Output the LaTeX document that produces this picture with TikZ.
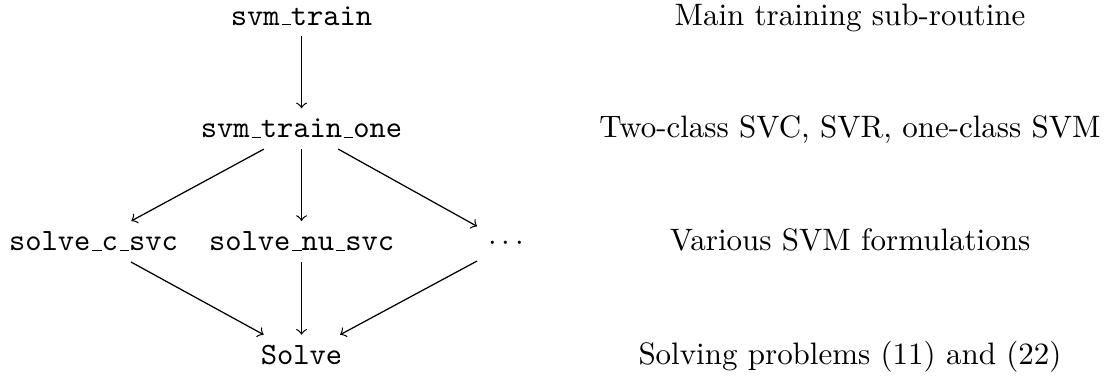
\documentclass[tikz,border=0pt]{standalone}
\usepackage{amsmath,amssymb}
\usepackage{tikz}
\newcommand{\usc}{\leavevmode\kern.06em\vbox{\hrule width.3em}}

\begin{document}
\begin{tikzpicture}[routine/.style = {anchor = base, font = \ttfamily}, note/.style = {anchor = base}]
\useasboundingbox (0,0) rectangle (12.60,4.275);
\node[routine] (train) at (3.42,3.99) {svm\usc train};
\node[routine] (trainone) at (3.42,2.71) {svm\usc train\usc one};
\node[routine] (csvc) at (1.06,1.43) {solve\usc c\usc svc};
\node[routine] (nusvc) at (3.42,1.43) {solve\usc nu\usc svc};
\node[anchor = base] (more) at (5.77,1.43) {$\cdots$};
\node[routine] (solve) at (3.42,0.136) {Solve};
\node[note] (train-note) at (9.64,3.99) {Main training sub-routine};
\node[note] (trainone-note) at (9.64,2.71) {Two-class SVC, SVR, one-class SVM};
\node[note] (svc-note) at (9.64,1.43) {Various SVM formulations};
\node[note] (solve-note) at (9.64,0.136) {Solving problems (11) and (22)};
\draw[->] (train) -- (trainone);
\draw[->] (trainone) -- (csvc);
\draw[->] (trainone) -- (nusvc);
\draw[->] (trainone) -- (more);
\draw[->] (csvc) -- (solve);
\draw[->] (nusvc) -- (solve);
\draw[->] (more) -- (solve);
\end{tikzpicture}
\end{document}
